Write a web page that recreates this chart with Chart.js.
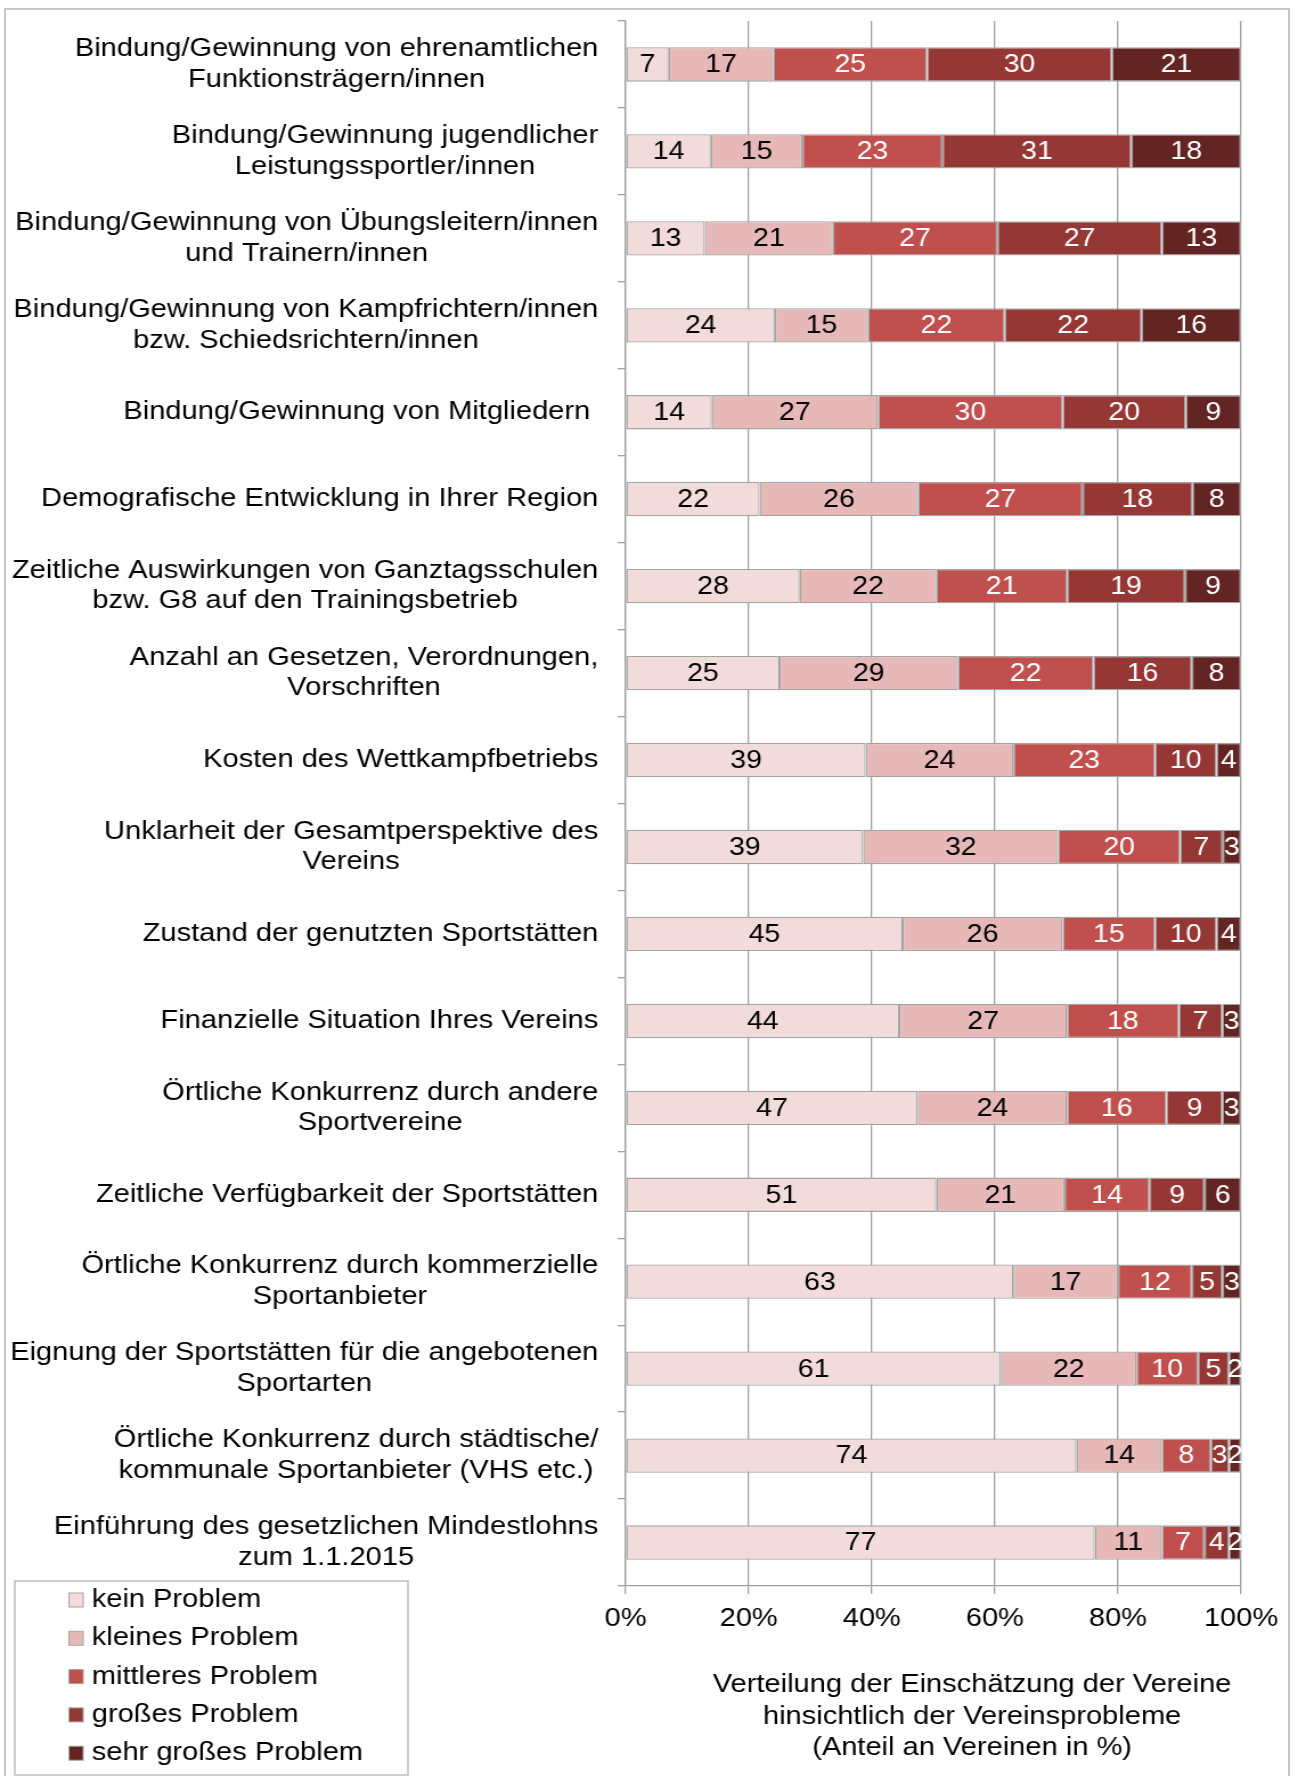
<!DOCTYPE html>
<html>
<head>
<meta charset="utf-8">
<script src="https://cdn.jsdelivr.net/npm/chart.js@4.4.1/dist/chart.umd.min.js"></script>
<style>
    body { margin: 0; background: #fff; }
    #frame { position: absolute; left: 4px; top: 8px; width: 1282px; height: 1800px; border: 2px solid #c6c6c6; }
    #problemChart { position: absolute; left: 0; top: 0; }
</style>
</head>
<body>
<div id="frame"></div>
<canvas id="problemChart" width="1139" height="1776" style="width:1298px;height:1776px"></canvas>
<script>
var categories = [
    ['Bindung/Gewinnung von ehrenamtlichen', 'Funktionsträgern/innen'],
    ['Bindung/Gewinnung jugendlicher', 'Leistungssportler/innen'],
    ['Bindung/Gewinnung von Übungsleitern/innen', 'und Trainern/innen'],
    ['Bindung/Gewinnung von Kampfrichtern/innen', 'bzw. Schiedsrichtern/innen'],
    'Bindung/Gewinnung von Mitgliedern ',
    'Demografische Entwicklung in Ihrer Region',
    ['Zeitliche Auswirkungen von Ganztagsschulen', 'bzw. G8 auf den Trainingsbetrieb'],
    ['Anzahl an Gesetzen, Verordnungen,', 'Vorschriften'],
    'Kosten des Wettkampfbetriebs',
    ['Unklarheit der Gesamtperspektive des', 'Vereins'],
    'Zustand der genutzten Sportstätten',
    'Finanzielle Situation Ihres Vereins',
    ['Örtliche Konkurrenz durch andere', 'Sportvereine'],
    'Zeitliche Verfügbarkeit der Sportstätten',
    ['Örtliche Konkurrenz durch kommerzielle', 'Sportanbieter'],
    ['Eignung der Sportstätten für die angebotenen', 'Sportarten'],
    ['Örtliche Konkurrenz durch städtische/', 'kommunale Sportanbieter (VHS etc.)'],
    ['Einführung des gesetzlichen Mindestlohns', 'zum 1.1.2015']
];

var seriesNames = ['kein Problem', 'kleines Problem', 'mittleres Problem', 'großes Problem', 'sehr großes Problem'];

var keinProblem        = [7, 14, 13, 24, 14, 22, 28, 25, 39, 39, 45, 44, 47, 51, 63, 61, 74, 77];
var kleinesProblem     = [17, 15, 21, 15, 27, 26, 22, 29, 24, 32, 26, 27, 24, 21, 17, 22, 14, 11];
var mittleresProblem   = [25, 23, 27, 22, 30, 27, 21, 22, 23, 20, 15, 18, 16, 14, 12, 10, 8, 7];
var grossesProblem     = [30, 31, 27, 22, 20, 18, 19, 16, 10, 7, 10, 7, 9, 9, 5, 5, 3, 4];
var sehrGrossesProblem = [21, 18, 13, 16, 9, 8, 9, 8, 4, 3, 4, 3, 3, 6, 3, 2, 2, 2];

var xTickLabels = ['0%', '20%', '40%', '60%', '80%', '100%'];
var axisTitle = ['Verteilung der Einschätzung der Vereine', 'hinsichtlich der Vereinsprobleme', '(Anteil an Vereinen in %)'];

var seriesColors = ['#f2dcdb', '#e6b9b8', '#c0504d', '#953735', '#632523'];
var allSeries = [keinProblem, kleinesProblem, mittleresProblem, grossesProblem, sehrGrossesProblem];

var FONT = '"Liberation Sans", Arial, sans-serif';

// 100%-gestapelt: jede Zeile auf ihre Summe normieren
var rowSums = categories.map(function(_, i) {
    return allSeries.reduce(function(s, arr) { return s + arr[i]; }, 0);
});

var datasets = allSeries.map(function(arr, d) {
    return {
        label: seriesNames[d],
        data: arr.map(function(v, i) { return v / rowSums[i] * 100; }),
        backgroundColor: seriesColors[d],
        borderColor: '#a3a3a3',
        borderWidth: 1.3,
        borderSkipped: false,
        barPercentage: 0.395,
        categoryPercentage: 1
    };
});

var textPlugin = {
    id: 'textPlugin',
    afterDatasetsDraw: function(chart) {
        var ctx = chart.ctx;
        ctx.save();
        ctx.font = '25px ' + FONT;
        ctx.textAlign = 'center';
        ctx.textBaseline = 'middle';
        chart.data.datasets.forEach(function(ds, d) {
            var meta = chart.getDatasetMeta(d);
            ctx.fillStyle = d < 2 ? '#000' : '#fff';
            meta.data.forEach(function(bar, i) {
                ctx.fillText(String(allSeries[d][i]), (bar.x + bar.base) / 2, bar.y + 1);
            });
        });
        ctx.restore();
    },
    afterDraw: function(chart) {
        var ctx = chart.ctx;
        var yScale = chart.scales.y;
        ctx.save();
        ctx.fillStyle = '#000';
        ctx.textBaseline = 'middle';

        // Kategorien: rechtsbündig am Block, Zeilen zentriert
        ctx.font = '25.5px ' + FONT;
        ctx.textAlign = 'center';
        var labelRight = chart.chartArea.left - 24;
        categories.forEach(function(lbl, i) {
            var lines = Array.isArray(lbl) ? lbl : [lbl];
            var w = Math.max.apply(null, lines.map(function(l) { return ctx.measureText(l).width; }));
            var cx = labelRight - w / 2;
            var y = yScale.getPixelForValue(i);
            lines.forEach(function(line, k) {
                ctx.fillText(line, cx, y + (k - (lines.length - 1) / 2) * 30.6);
            });
        });

        // Achsentitel
        var titleX = 853;
        axisTitle.forEach(function(line, k) {
            ctx.fillText(line, titleX, 1685 + k * 31.5);
        });

        // Legende
        ctx.strokeStyle = '#b4b4b4';
        ctx.lineWidth = 1.3;
        ctx.strokeRect(13, 1581, 345, 194);
        ctx.textAlign = 'left';
        chart.data.datasets.forEach(function(ds, d) {
            var cy = 1600 + d * 38.3;
            ctx.fillStyle = ds.backgroundColor;
            ctx.fillRect(60.5, cy - 7, 12.5, 14);
            ctx.strokeStyle = '#a3a3a3';
            ctx.lineWidth = 1;
            ctx.strokeRect(60.5, cy - 7, 12.5, 14);
            ctx.fillStyle = '#000';
            ctx.fillText(ds.label, 80.5, cy);
        });
        ctx.restore();
    }
};

var ctx = document.getElementById('problemChart').getContext('2d');
var problemChart = new Chart(ctx, {
    type: 'bar',
    data: {
        labels: categories,
        datasets: datasets
    },
    options: {
        indexAxis: 'y',
        responsive: false,
        animation: false,
        layout: { padding: { top: 21, right: 50, left: 0, bottom: 0 } },
        plugins: {
            legend: { display: false },
            tooltip: { enabled: false }
        },
        scales: {
            x: {
                stacked: true,
                min: 0,
                max: 100,
                ticks: {
                    stepSize: 20,
                    padding: 10,
                    color: '#000',
                    font: { size: 25.5, family: FONT },
                    callback: function(v) { return xTickLabels[v / 20]; }
                },
                grid: { color: '#a0a0a0', lineWidth: 1.3, tickLength: 8 },
                border: { color: '#a0a0a0', width: 1.3 },
                afterFit: function(scale) { scale.height = 190; }
            },
            y: {
                stacked: true,
                ticks: { display: false },
                grid: { offset: true, drawOnChartArea: false, color: '#a0a0a0', lineWidth: 1.3, tickLength: 7 },
                border: { color: '#a0a0a0', width: 1.3 },
                afterFit: function(scale) { scale.width = 549; }
            }
        }
    },
    plugins: [textPlugin]
});
</script>
</body>
</html>
